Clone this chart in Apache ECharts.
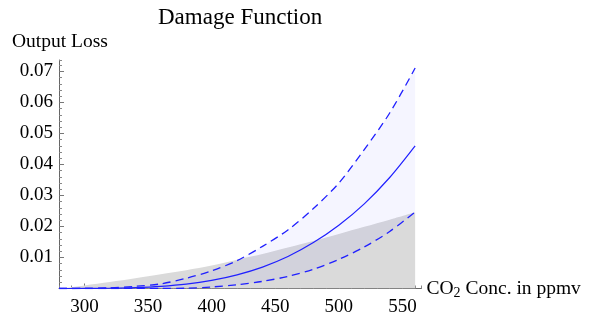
<html>
<head>
<meta charset="utf-8">
<script src="https://cdn.jsdelivr.net/npm/echarts@6/dist/echarts.min.js"></script>
<style>
  body { margin: 0; background: #fff; }
  #chart { width: 589px; height: 319px; }
</style>
</head>
<body>
<div id="chart"></div>
<script type="text/javascript">
    // CO2 concentration (ppmv)
    var conc = [280, 300, 320, 340, 360, 380, 400, 420, 440, 460, 480, 500, 520, 540, 560];
    // central damage estimate
    var lossMid = [0, 0.00001, 0.0001, 0.0003, 0.0007, 0.0014, 0.0026, 0.0044, 0.0069, 0.0103, 0.0148, 0.0204, 0.0273, 0.0358, 0.0460];
    // upper / lower dashed bounds
    var lossHigh = [0, 0.00003, 0.0002, 0.0007, 0.0015, 0.0033, 0.0057, 0.0090, 0.0136, 0.0189, 0.0258, 0.0340, 0.0448, 0.0566, 0.0711];
    var lossLow = [0, 0, 0, 0.00002, 0.00005, 0.0001, 0.0005, 0.0012, 0.0023, 0.0039, 0.0062, 0.0094, 0.0134, 0.0184, 0.0247];
    // gray region
    var lossGray = [0, 0.0010, 0.0021, 0.0033, 0.0046, 0.0059, 0.0074, 0.0093, 0.0111, 0.0132, 0.0153, 0.0176, 0.0199, 0.0222, 0.0246];
    // tick labels
    var xTicks = [300, 350, 400, 450, 500, 550];

    var font = 'Liberation Serif';

    function pairs(ys) {
        return conc.map(function (c, i) { return [c, ys[i]]; });
    }
    // value first so that stacking runs on y
    function pairsYX(ys) {
        return conc.map(function (c, i) { return [ys[i], c]; });
    }
    var bandWidth = lossHigh.map(function (v, i) { return v - lossLow[i]; });

    var myChart = echarts.init(document.getElementById('chart'));

    var options = {
        animation: false,
        backgroundColor: '#fff',
        title: {
            text: 'Damage Function',
            left: 153,
            top: 1,
            textStyle: { fontFamily: font, fontSize: 23, fontWeight: 'normal', color: '#000' }
        },
        graphic: [{
            type: 'text',
            left: 12,
            top: 32,
            style: { text: 'Output Loss', font: '19.5px "' + font + '"', fill: '#000' }
        }],
        grid: { left: 59, right: 167.5, top: 60, bottom: 30.5 },
        xAxis: [{
            type: 'value',
            min: 280,
            max: 565,
            interval: 10,
            position: 'bottom',
            axisLine: { show: true, lineStyle: { color: '#666', width: 1 } },
            axisTick: { show: true, inside: true, length: 3, lineStyle: { color: '#888' } },
            axisLabel: { show: false },
            splitLine: { show: false },
            name: 'CO{sub|2} Conc. in ppmv',
            nameLocation: 'end',
            nameGap: 5,
            nameTextStyle: {
                fontFamily: font, fontSize: 19.5, color: '#000', align: 'left',
                rich: { sub: { fontFamily: font, fontSize: 14, color: '#000', padding: [10, 0, 0, 0] } }
            }
        }, {
            type: 'value',
            min: 280,
            max: 565,
            position: 'bottom',
            axisLine: { show: false },
            axisTick: { show: true, inside: true, length: 5, customValues: xTicks, lineStyle: { color: '#777' } },
            axisLabel: { show: true, customValues: xTicks, margin: 9, fontFamily: font, fontSize: 19, color: '#000' },
            splitLine: { show: false }
        }],
        yAxis: [{
            type: 'value',
            min: 0,
            max: 0.0737,
            interval: 0.002,
            axisLine: { show: true, lineStyle: { color: '#666', width: 1 } },
            axisTick: { show: true, inside: true, length: 3, lineStyle: { color: '#888' } },
            axisLabel: { show: false },
            splitLine: { show: false }
        }, {
            type: 'value',
            min: 0,
            max: 0.0737,
            interval: 0.01,
            position: 'left',
            axisLine: { show: false },
            axisTick: { show: true, inside: true, length: 5, lineStyle: { color: '#777' } },
            axisLabel: {
                show: true, margin: 6, fontFamily: font, fontSize: 19, color: '#000',
                formatter: function (v) { return v === 0 ? '' : v.toFixed(2); }
            },
            splitLine: { show: false }
        }],
        series: [{
            // gray region
            type: 'line',
            data: pairs(lossGray),
            smooth: 0.3,
            symbol: 'none',
            lineStyle: { width: 0 },
            areaStyle: { color: '#dadada', opacity: 1 },
            z: 1
        }, {
            type: 'line',
            data: pairsYX(lossLow),
            encode: { x: 1, y: 0 },
            stack: 'band',
            smooth: 0.3,
            symbol: 'none',
            lineStyle: { width: 0 },
            z: 2
        }, {
            type: 'line',
            data: pairsYX(bandWidth),
            encode: { x: 1, y: 0 },
            stack: 'band',
            smooth: 0.3,
            symbol: 'none',
            lineStyle: { width: 0 },
            areaStyle: { color: 'rgb(70,70,255)', opacity: 0.055 },
            z: 2
        }, {
            type: 'line',
            data: pairs(lossHigh),
            smooth: 0.3,
            symbol: 'none',
            lineStyle: { color: '#2020ff', width: 1.3, type: [8, 5] },
            z: 3
        }, {
            type: 'line',
            data: pairs(lossLow),
            smooth: 0.3,
            symbol: 'none',
            lineStyle: { color: '#2020ff', width: 1.3, type: [8, 5] },
            z: 3
        }, {
            type: 'line',
            data: pairs(lossMid),
            smooth: 0.3,
            symbol: 'none',
            lineStyle: { color: '#2020ff', width: 1.2 },
            z: 3
        }]
    };

    myChart.setOption(options);
</script>
</body>
</html>
